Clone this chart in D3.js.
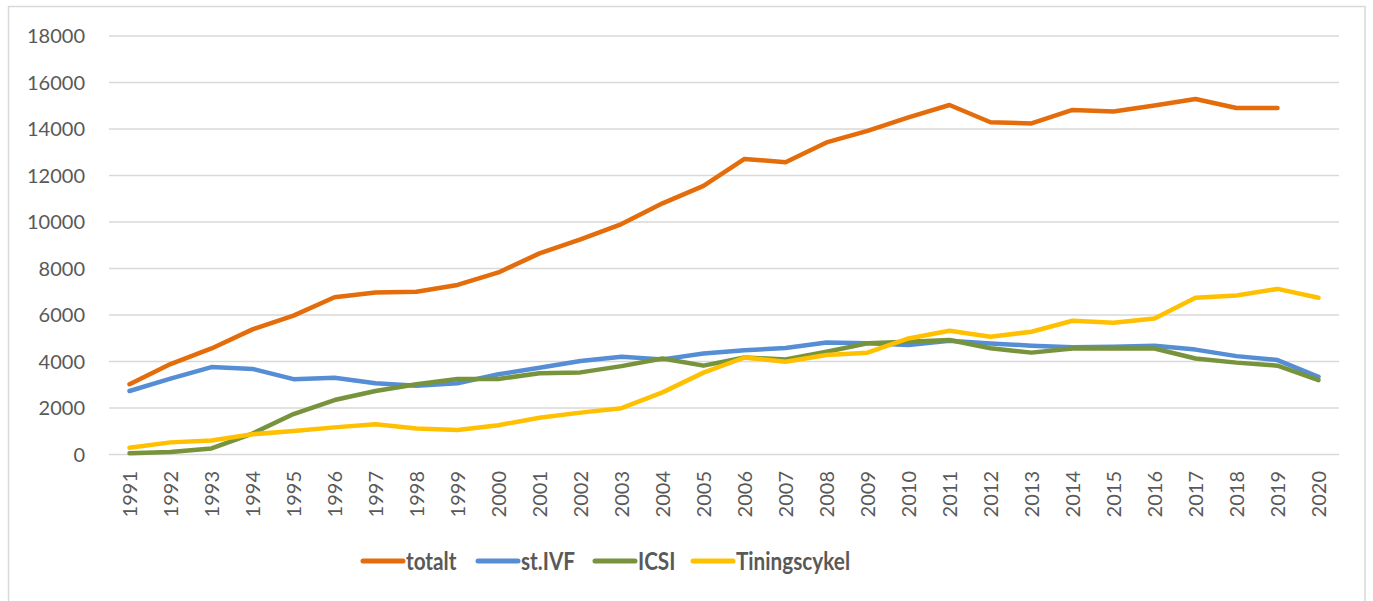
<!DOCTYPE html>
<html>
<head>
<meta charset="utf-8">
<script src="https://cdn.jsdelivr.net/npm/d3@7/dist/d3.min.js"></script>
<style>
  html, body { margin: 0; padding: 0; background: #fff; }
  svg { display: block; }
</style>
</head>
<body>
<svg id="chart" width="1373" height="601"></svg>
<script>
const years = ["1991","1992","1993","1994","1995","1996","1997","1998","1999","2000",
  "2001","2002","2003","2004","2005","2006","2007","2008","2009","2010",
  "2011","2012","2013","2014","2015","2016","2017","2018","2019","2020"];

const totalt = [3000, 3870, 4540, 5360, 5950, 6740, 6950, 6980, 7270, 7810,
  8630, 9230, 9890, 10780, 11530, 12690, 12550, 13400, 13900, 14480,
  15010, 14270, 14220, 14800, 14730, 14990, 15270, 14880, 14880, null];
const stIVF = [2710, 3240, 3740, 3660, 3220, 3280, 3040, 2940, 3040, 3430,
  3710, 4000, 4180, 4070, 4320, 4460, 4560, 4800, 4760, 4690,
  4870, 4750, 4660, 4590, 4610, 4660, 4490, 4210, 4040, 3320];
const ICSI = [30, 85, 240, 880, 1720, 2320, 2710, 3000, 3230, 3230,
  3470, 3510, 3780, 4110, 3800, 4150, 4070, 4400, 4760, 4830,
  4900, 4550, 4360, 4540, 4540, 4540, 4110, 3930, 3800, 3180];
const tining = [270, 500, 580, 850, 990, 1145, 1275, 1100, 1030, 1240,
  1560, 1780, 1970, 2650, 3500, 4150, 3970, 4260, 4360, 4970,
  5300, 5040, 5260, 5730, 5650, 5830, 6720, 6820, 7100, 6720];

const yTicks = [0, 2000, 4000, 6000, 8000, 10000, 12000, 14000, 16000, 18000];

const seriesNames = ["totalt", "st.IVF", "ICSI", "Tiningscykel"];
const seriesColors = ["#E46C0A", "#558ED5", "#77933C", "#FFC000"];
const seriesValues = [totalt, stIVF, ICSI, tining];

const svg = d3.select("#chart");
const plot = { left: 109, right: 1339, top: 35.5, bottom: 454 };

// outer frame
svg.append("rect")
  .attr("x", 8.5).attr("y", 6.5)
  .attr("width", 1365 - 8.5).attr("height", 620)
  .attr("fill", "#fff").attr("stroke", "#d9d9d9").attr("stroke-width", 1.5);

const x = d3.scalePoint().domain(years).range([plot.left, plot.right]).padding(0.5);
const y = d3.scaleLinear().domain([0, 18000]).range([plot.bottom, plot.top]);

// gridlines + y labels
const yAxis = d3.axisLeft(y).tickValues(yTicks)
  .tickSize(-(plot.right - plot.left)).tickPadding(24).tickFormat(d3.format("d"));
const gy = svg.append("g").attr("transform", `translate(${plot.left},0)`).call(yAxis);
gy.select(".domain").remove();
gy.selectAll(".tick line").attr("stroke", "#d9d9d9").attr("stroke-width", 1.5);
gy.selectAll(".tick text")
  .attr("fill", "#595959")
  .style("font-family", "Lato, 'Open Sans', sans-serif")
  .style("font-size", "20px")
  .attr("dy", "0.36em");

// x axis labels (rotated)
const xAxis = d3.axisBottom(x).tickSize(0).tickPadding(0);
const gx = svg.append("g").attr("transform", `translate(0,${plot.bottom})`).call(xAxis);
gx.select(".domain").remove();
gx.selectAll(".tick text")
  .attr("fill", "#595959")
  .style("font-family", "Lato, 'Open Sans', sans-serif")
  .style("font-size", "20px")
  .attr("transform", "rotate(-90)")
  .attr("text-anchor", "end")
  .attr("x", -17)
  .attr("y", 0)
  .attr("dy", "0.36em");

// lines
const line = d3.line()
  .defined(d => d != null)
  .x((d, i) => x(years[i]))
  .y(d => y(d));

seriesValues.forEach((vals, k) => {
  svg.append("path")
    .datum(vals)
    .attr("fill", "none")
    .attr("stroke", seriesColors[k])
    .attr("stroke-width", 4.5)
    .attr("stroke-linejoin", "round")
    .attr("stroke-linecap", "round")
    .attr("d", line);
});

// legend
const legendX = [363, 478, 595, 693];
const legend = svg.append("g");
seriesNames.forEach((name, k) => {
  const g = legend.append("g").attr("transform", `translate(${legendX[k]},561)`);
  g.append("line")
    .attr("x1", 0).attr("x2", 40).attr("y1", 0).attr("y2", 0)
    .attr("stroke", seriesColors[k]).attr("stroke-width", 5)
    .attr("stroke-linecap", "round");
  g.append("text")
    .attr("transform", "translate(43,0) scale(0.83,1)")
    .attr("dy", "0.36em")
    .attr("fill", "#595959")
    .style("font-family", "Lato, 'Open Sans', sans-serif")
    .style("font-weight", "bold")
    .style("font-size", "25px")
    .text(name);
});
</script>
</body>
</html>
